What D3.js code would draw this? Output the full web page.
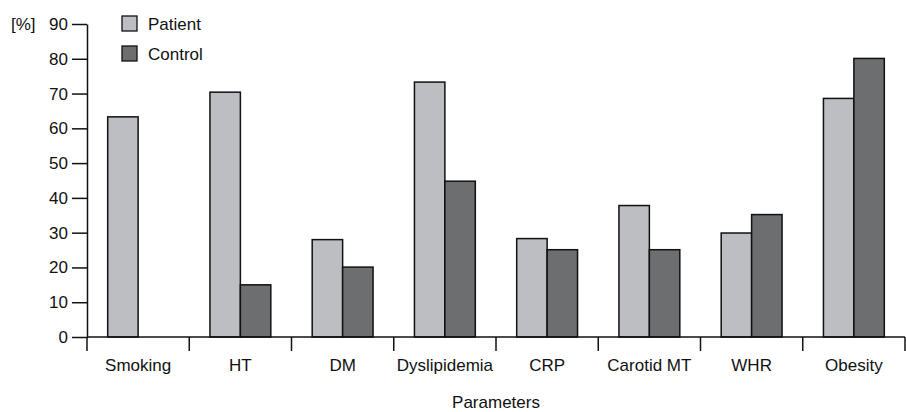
<!DOCTYPE html>
<html>
<head>
<meta charset="utf-8">
<script src="https://cdn.jsdelivr.net/npm/d3@7"></script>
<style>
  body { margin: 0; background: #fff; }
  text { font-family: "Liberation Sans", Arial, sans-serif; fill: #111; }
</style>
</head>
<body>
<svg id="mainsvg" width="906" height="412"></svg>
<script>
const categories = ['Smoking', 'HT', 'DM', 'Dyslipidemia', 'CRP', 'Carotid MT', 'WHR', 'Obesity'];
const series = ['Patient', 'Control'];
const patientValues = [63.3, 70.4, 28.0, 73.3, 28.3, 37.8, 29.9, 68.6];
const controlValues = [0, 15.0, 20.1, 44.8, 25.1, 25.1, 35.2, 80.1];
const yTicks = [0, 10, 20, 30, 40, 50, 60, 70, 80, 90];
const colors = {Patient: '#bdbec2', Control: '#6d6e70'};

const svg = d3.select('#mainsvg');
const margin = {top: 24, right: 1, bottom: 75, left: 87};
const width = +svg.attr('width');
const height = +svg.attr('height');
const innerWidth = width - margin.left - margin.right;
const innerHeight = height - margin.top - margin.bottom;

const g = svg.append('g').attr('transform', `translate(${margin.left}, ${margin.top})`);

const xScale = d3.scaleBand().domain(categories).range([0, innerWidth]).padding(0);
const xInner = d3.scaleBand().domain(series).range([0, xScale.bandwidth()]).paddingInner(0).paddingOuter(0.68);
const yScale = d3.scaleLinear().domain([0, 90]).range([innerHeight, 0]);

const data = categories.map((c, i) => ({cat: c, Patient: patientValues[i], Control: controlValues[i]}));

// bars
const groups = g.selectAll('.cat')
  .data(data)
  .join('g')
  .attr('class', 'cat')
  .attr('transform', d => `translate(${xScale(d.cat)}, 0)`);

groups.selectAll('rect')
  .data(d => series.map(s => ({s, v: d[s]})).filter(e => e.v > 0))
  .join('rect')
  .attr('x', d => xInner(d.s))
  .attr('y', d => yScale(d.v))
  .attr('width', xInner.bandwidth())
  .attr('height', d => innerHeight - yScale(d.v))
  .attr('fill', d => colors[d.s])
  .attr('stroke', '#111')
  .attr('stroke-width', 1.5);

// y axis
const yAxis = g.append('g')
  .call(d3.axisLeft(yScale).tickValues(yTicks).tickSize(15).tickSizeOuter(0).tickPadding(4));
yAxis.select('.domain').attr('stroke', '#111').attr('stroke-width', 1.5);
yAxis.selectAll('.tick line').attr('stroke', '#111').attr('stroke-width', 1.5);
yAxis.selectAll('.tick text').style('font-size', '17px').attr('fill', '#111');

// x axis: labels in band centers, ticks at boundaries
g.append('line')
  .attr('x1', 0).attr('x2', innerWidth)
  .attr('y1', innerHeight).attr('y2', innerHeight)
  .attr('stroke', '#111').attr('stroke-width', 1.5);

const bounds = categories.map(c => xScale(c)).concat([xScale.range()[1]]);
g.selectAll('.btick')
  .data(bounds)
  .join('line')
  .attr('class', 'btick')
  .attr('x1', d => d).attr('x2', d => d)
  .attr('y1', innerHeight).attr('y2', innerHeight + 14)
  .attr('stroke', '#111').attr('stroke-width', 1.5);

g.selectAll('.xlabel')
  .data(categories)
  .join('text')
  .attr('class', 'xlabel')
  .attr('x', d => xScale(d) + xScale.bandwidth() / 2)
  .attr('y', innerHeight + 34)
  .attr('text-anchor', 'middle')
  .style('font-size', '17px')
  .text(d => d);

// axis titles
svg.append('text')
  .attr('x', margin.left + innerWidth / 2)
  .attr('y', 408)
  .attr('text-anchor', 'middle')
  .style('font-size', '17px')
  .text('Parameters');

svg.append('text')
  .attr('x', 11)
  .attr('y', 30)
  .style('font-size', '17px')
  .text('[%]');

// legend
const legend = svg.append('g').attr('transform', 'translate(122, 16)');
const items = legend.selectAll('.legend-item')
  .data(series)
  .join('g')
  .attr('class', 'legend-item')
  .attr('transform', (d, i) => `translate(0, ${i * 30})`);
items.append('rect')
  .attr('width', 15).attr('height', 15)
  .attr('fill', d => colors[d])
  .attr('stroke', '#111').attr('stroke-width', 1.3);
items.append('text')
  .attr('x', 26).attr('y', 14)
  .style('font-size', '17px')
  .text(d => d);
</script>
</body>
</html>
